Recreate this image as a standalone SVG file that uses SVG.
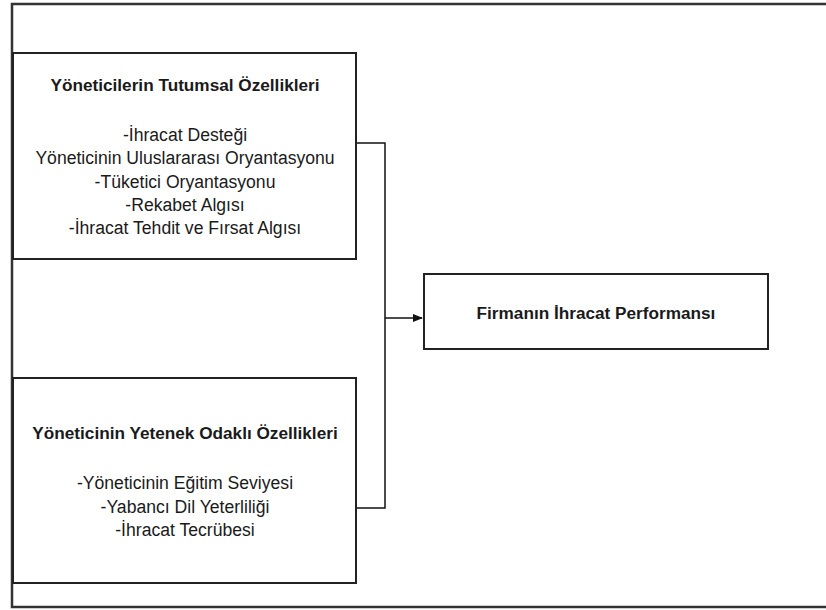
<svg xmlns="http://www.w3.org/2000/svg" width="826" height="610" viewBox="0 0 826 610">
<style>
.box{fill:#fff;stroke:#222;stroke-width:2}
.t{font-family:"Liberation Sans",Arial,sans-serif;font-size:17.6px;fill:#1a1a1a;text-anchor:middle;dominant-baseline:central}
.b{font-weight:bold;font-size:17.2px}
.c{fill:none;stroke:#111;stroke-width:1.5}
</style>
<defs>
<marker id="arr" markerWidth="10" markerHeight="8" refX="9" refY="4" orient="auto" markerUnits="userSpaceOnUse">
<path d="M0,0 L10,4 L0,8 z" fill="#111"/>
</marker>
</defs>
<rect width="826" height="610" fill="#fff"/>
<g id="frame"><path d="M830,4 H12 V607 H830" fill="none" stroke="#333" stroke-width="2.5"/></g>
<g id="connectors">
<path class="c" d="M356,143 H385 V508 H356"/>
<path class="c" d="M385,318 H422" marker-end="url(#arr)"/>
</g>
<g id="node1">
<rect class="box" x="13" y="53" width="343" height="206"/>
<text class="t b" x="185" y="85">Yöneticilerin Tutumsal Özellikleri</text>
<text class="t" x="185" y="135">-İhracat Desteği</text>
<text class="t" x="185" y="158">Yöneticinin Uluslararası Oryantasyonu</text>
<text class="t" x="185" y="182">-Tüketici Oryantasyonu</text>
<text class="t" x="185" y="205">-Rekabet Algısı</text>
<text class="t" x="185" y="228">-İhracat Tehdit ve Fırsat Algısı</text>
</g>
<g id="node2">
<rect class="box" x="13" y="378" width="343" height="205"/>
<text class="t b" x="185" y="433">Yöneticinin Yetenek Odaklı Özellikleri</text>
<text class="t" x="185" y="483">-Yöneticinin Eğitim Seviyesi</text>
<text class="t" x="185" y="507">-Yabancı Dil Yeterliliği</text>
<text class="t" x="185" y="530">-İhracat Tecrübesi</text>
</g>
<g id="node3">
<rect class="box" x="424" y="274" width="344" height="75"/>
<text class="t b" x="596" y="313">Firmanın İhracat Performansı</text>
</g>
</svg>
